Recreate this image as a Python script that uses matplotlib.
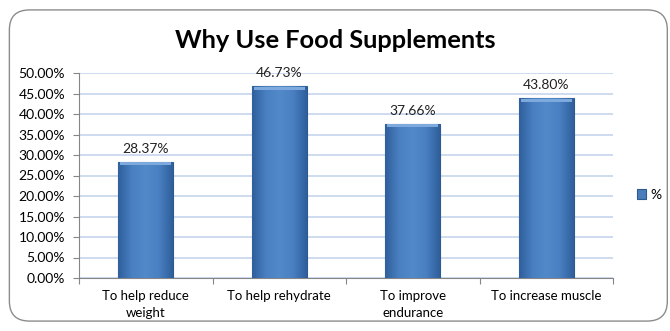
import matplotlib.pyplot as plt
import numpy as np
from matplotlib.patches import FancyBboxPatch
from matplotlib.colors import LinearSegmentedColormap

categories = ['To help reduce\nweight', 'To help rehydrate', 'To improve\nendurance', 'To increase muscle']
values = [28.37, 46.73, 37.66, 43.80]
yticks = [0, 5, 10, 15, 20, 25, 30, 35, 40, 45, 50]

plt.rcParams['font.family'] = ['Lato', 'DejaVu Sans']

fig = plt.figure(figsize=(6.7, 3.31), dpi=100)

# rounded chart border
border = FancyBboxPatch((0.014, 0.03), 0.982, 0.94, boxstyle='round,pad=0,rounding_size=0.03',
                        transform=fig.transFigure, facecolor='white', edgecolor='#8c8c8c', lw=1.0,
                        mutation_aspect=2.0, zorder=-1)
fig.patches.append(border)

ax = fig.add_axes([79/670, 1 - 278/331, (613-79)/670, (278-73)/331])
ax.set_facecolor('none')

x = np.arange(len(categories))
bars = ax.bar(x, values, width=0.41, color='#4a7ebb', edgecolor='#2c5a8f', lw=0.8, zorder=3)

# horizontal shading on each bar
cmap = LinearSegmentedColormap.from_list('bar', ['#2f5f9c', '#4a80c2', '#5189c9', '#4a80c2', '#2f5f9c'])
grad = np.linspace(0, 1, 64).reshape(1, -1)
for b in bars:
    x0, w, h = b.get_x(), b.get_width(), b.get_height()
    im = ax.imshow(grad, cmap=cmap, extent=[x0, x0 + w, 0, h], aspect='auto', zorder=3.5)
    im.set_clip_path(b)
    # lighter cap at top
    ax.bar(x0 + w / 2, 0.8, bottom=h - 0.9, width=w * 0.94, color='#7ea9dc', lw=0, zorder=4)

for xi, v in zip(x, values):
    ax.annotate('%.2f%%' % v, (xi, v), xytext=(0, 5), textcoords='offset points',
                ha='center', va='bottom', fontsize=10, color='#222222')

ax.set_xlim(-0.5, len(categories) - 0.5)
ax.set_ylim(0, 50)
ax.set_yticks(yticks)
ax.set_yticklabels(['%.2f%%' % t for t in yticks], fontsize=10)
ax.yaxis.grid(True, color='#c6d6ec', lw=1.2, zorder=0)
ax.set_axisbelow(True)

ax.set_xticks(np.arange(len(categories) + 1) - 0.5)
ax.set_xticklabels([])
ax.set_xticks(x, minor=True)
ax.set_xticklabels(categories, minor=True, fontsize=9.5, linespacing=1.45)
ax.tick_params(axis='x', which='minor', length=0, pad=9)
ax.tick_params(axis='x', which='major', length=4, color='#868686', direction='out')
ax.tick_params(axis='y', length=4, color='#868686', pad=6)

for s in ['top', 'right']:
    ax.spines[s].set_visible(False)
ax.spines['left'].set_color('#868686')
ax.spines['bottom'].set_color('#868686')

fig.text(0.5, 1 - 40/331, 'Why Use Food Supplements', ha='center', va='center',
         fontsize=18.3, fontweight='bold', color='black')

# legend
leg = fig.legend([bars[0]], ['%'], loc='center left', bbox_to_anchor=(624/670, 1 - 195/331),
                 frameon=False, fontsize=10, handlelength=0.7, handleheight=0.7, handletextpad=0.3)

fig.savefig('out.png', dpi=100)
